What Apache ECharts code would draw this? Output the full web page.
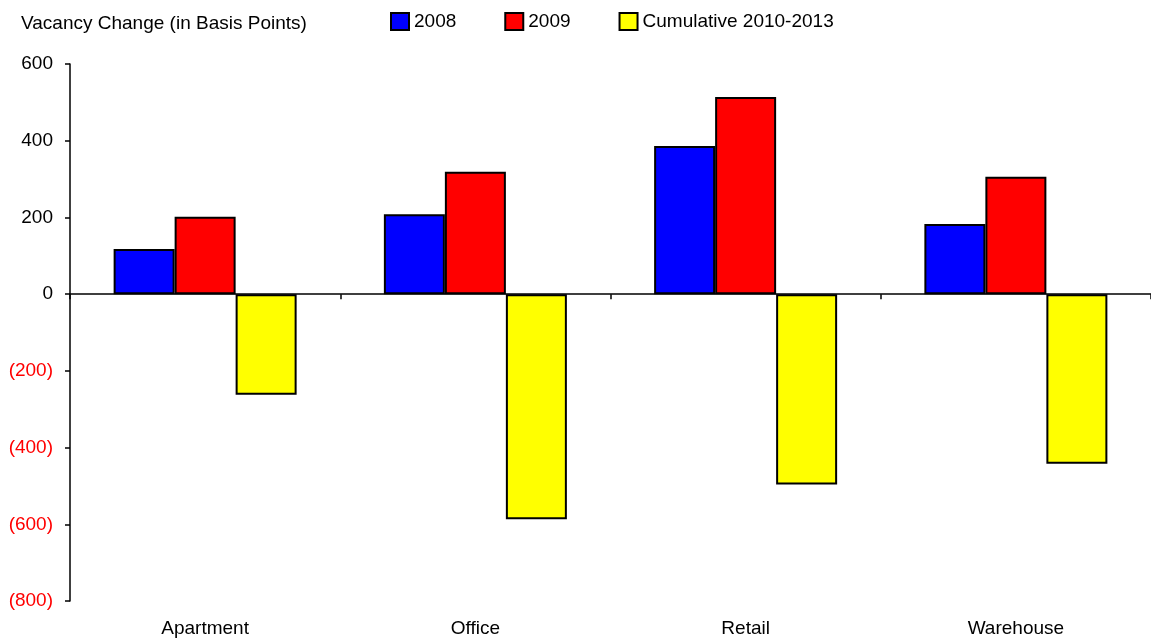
<!DOCTYPE html>
<html>
<head>
<meta charset="utf-8">
<script src="https://cdn.jsdelivr.net/npm/echarts@6/dist/echarts.min.js"></script>
<style>
  html, body { margin: 0; padding: 0; background: #fff; }
  #chart { width: 1151px; height: 638px; }
</style>
</head>
<body>
<div id="chart"></div>
<script>
// data
const categories = ['Apartment', 'Office', 'Retail', 'Warehouse'];
const v2008 = [118, 208, 386, 183];
const v2009 = [202, 319, 514, 306];
const cumulative = [-262, -587, -496, -442];
const seriesNames = ['2008', '2009', 'Cumulative 2010-2013'];

const chart = echarts.init(document.getElementById('chart'));
const font = 'Liberation Sans, Arial, sans-serif';

const barStyle = (color) => ({ color: color, borderColor: '#000', borderWidth: 2 });

const option = {
  animation: false,
  textStyle: { fontFamily: font },
  title: {
    text: 'Vacancy Change (in Basis Points)',
    left: 16, top: 9,
    textStyle: { fontSize: 19, fontWeight: 'normal', color: '#000', fontFamily: font }
  },
  legend: {
    left: 385, top: 7,
    icon: 'rect',
    itemWidth: 18, itemHeight: 17, itemGap: 48,
    textStyle: { fontSize: 19, color: '#000', fontFamily: font },
    data: seriesNames
  },
  grid: { left: 70, top: 64, bottom: 36, width: 1092 },
  xAxis: [
    {
      type: 'category',
      data: categories,
      axisLine: { onZero: true, lineStyle: { color: '#000', width: 1.5 } },
      axisTick: { show: true, length: 5, lineStyle: { color: '#000', width: 1.5 } },
      axisLabel: { show: false }
    },
    {
      type: 'category',
      data: categories,
      position: 'bottom',
      axisLine: { show: false },
      axisTick: { show: false },
      axisLabel: { fontSize: 19, color: '#000', margin: 18, fontFamily: font }
    }
  ],
  yAxis: {
    type: 'value',
    min: -800, max: 600, interval: 200,
    splitLine: { show: false },
    axisLine: { show: true, lineStyle: { color: '#000', width: 1.5 } },
    axisTick: { show: true, length: 5, lineStyle: { color: '#000', width: 1.5 } },
    axisLabel: {
      fontSize: 19, margin: 17, fontFamily: font,
      color: (v) => (Number(v) < 0 ? '#ff0000' : '#000'),
      formatter: (v) => (v < 0 ? '(' + Math.abs(v) + ')' : String(v))
    }
  },
  series: [
    { name: seriesNames[0], type: 'bar', data: v2008, barWidth: 61, barGap: '0%', itemStyle: barStyle('#0000ff') },
    { name: seriesNames[1], type: 'bar', data: v2009, barWidth: 61, barGap: '0%', itemStyle: barStyle('#ff0000') },
    { name: seriesNames[2], type: 'bar', data: cumulative, barWidth: 61, barGap: '0%', itemStyle: barStyle('#ffff00') }
  ]
};

chart.setOption(option);
</script>
</body>
</html>
